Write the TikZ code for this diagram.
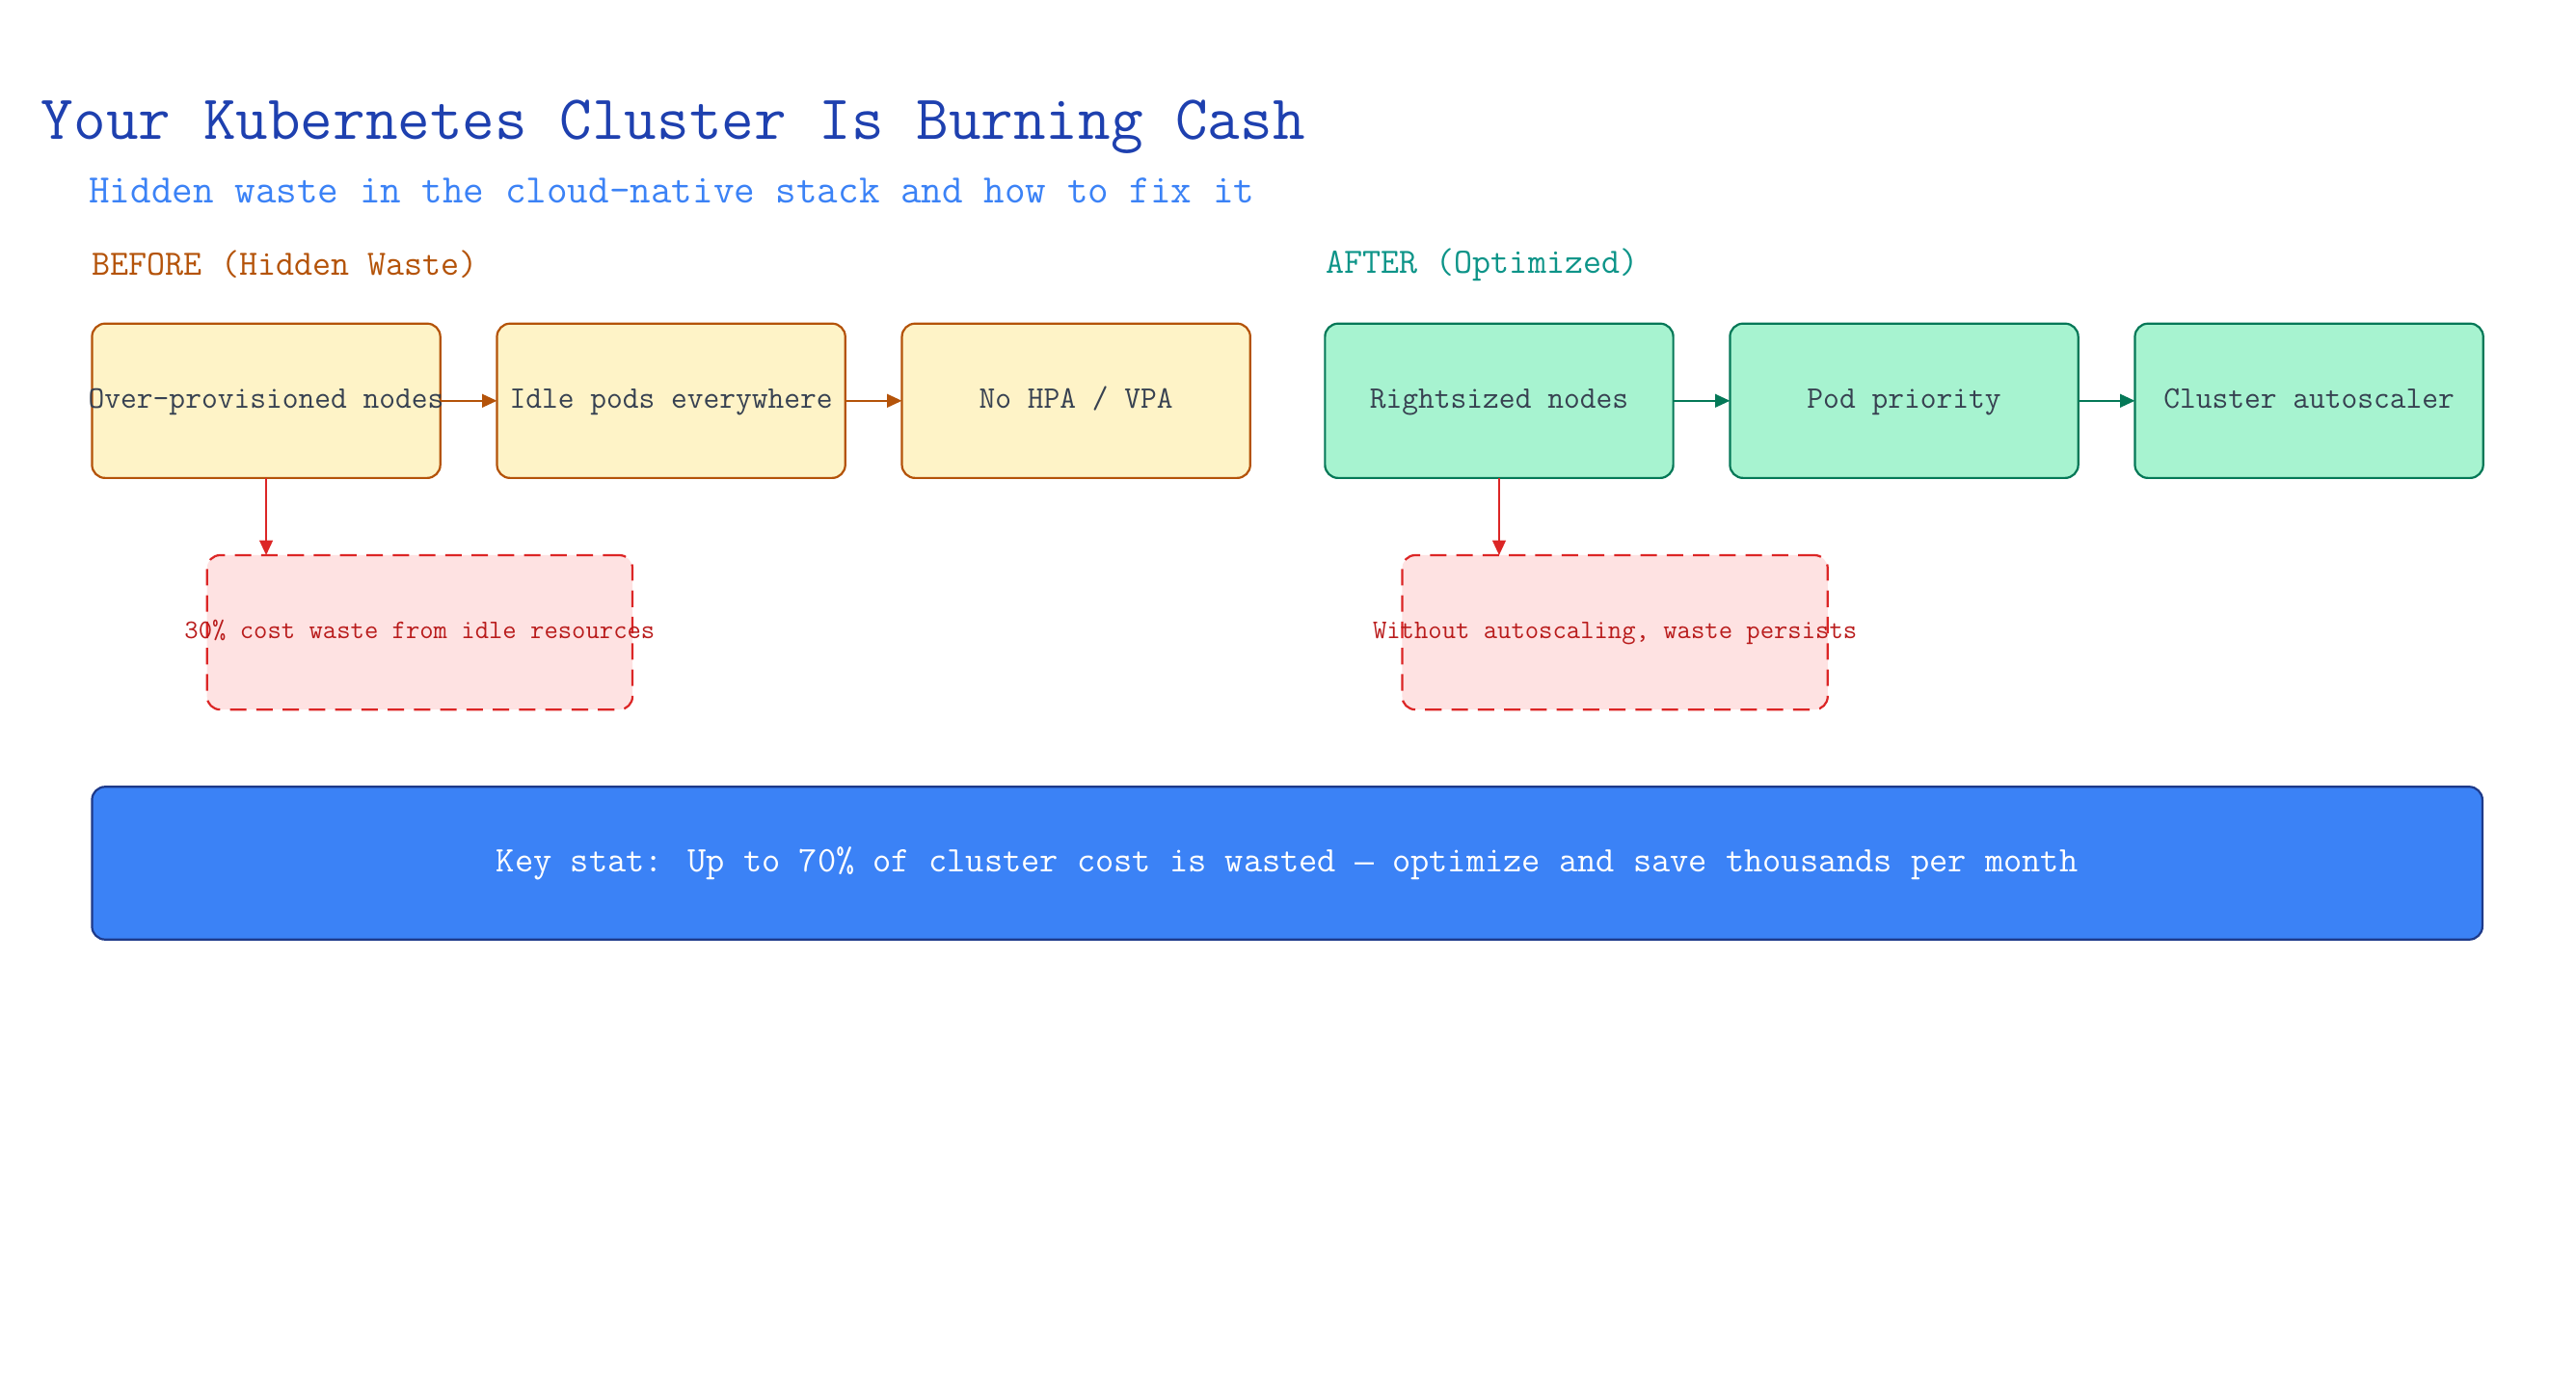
\documentclass[tikz,border=0pt]{standalone}
\usepackage{fontspec}
\newfontfamily\dashfont{Liberation Mono}[Scale=0.875]
\usetikzlibrary{arrows.meta,positioning}

\definecolor{titleblue}{HTML}{1E40AF}
\definecolor{subblue}{HTML}{3B82F6}
\definecolor{waste}{HTML}{B45309}
\definecolor{wastefill}{HTML}{FEF3C7}
\definecolor{fixed}{HTML}{047857}
\definecolor{fixedlabel}{HTML}{0D9488}
\definecolor{fixedfill}{HTML}{A7F3D0}
\definecolor{alert}{HTML}{DC2626}
\definecolor{alerttext}{HTML}{B91C1C}
\definecolor{alertfill}{HTML}{FEE2E2}
\definecolor{statfill}{HTML}{3B82F6}
\definecolor{statline}{HTML}{1E3A8A}
\definecolor{boxtext}{HTML}{374151}

\tikzset{
  fixedwidth/.style={execute at begin node={\hbox to 0pt\bgroup\hss\strut},
    execute at end node={\hss\egroup}},
  stagebox/.style={draw, rounded corners=8pt, line width=1.3pt, inner sep=0pt, outer sep=0pt,
    minimum width=212pt, minimum height=94pt, text=boxtext, fixedwidth,
    font=\ttfamily\fontsize{19.1}{22}\selectfont},
  beforebox/.style={stagebox, draw=waste, fill=wastefill},
  afterbox/.style={stagebox, draw=fixed, fill=fixedfill},
  warnbox/.style={draw=alert, fill=alertfill, dash pattern=on 10pt off 6pt,
    rounded corners=8pt, line width=1.3pt, inner sep=0pt, outer sep=0pt, fixedwidth,
    minimum width=259pt, minimum height=94pt, text=alerttext,
    font=\ttfamily\fontsize{16.35}{19}\selectfont},
  flow/.style={-{Triangle[length=9pt,width=8pt]}, line width=1.3pt},
}

\begin{document}
\begin{tikzpicture}[x=1pt, y=-1pt, node distance=34.5pt]
  \useasboundingbox (0,0) rectangle (1568,845);

  % headings
  \node[anchor=west, inner sep=0pt, text=titleblue, font=\ttfamily\fontsize{38.3}{44}\selectfont]
    (title) at (25,77) {Your Kubernetes Cluster Is Burning Cash};
  \node[anchor=west, inner sep=0pt, text=subblue, font=\ttfamily\fontsize{24.6}{29}\selectfont]
    (subtitle) at (54,116) {Hidden waste in the cloud-native stack and how to fix it};
  \node[anchor=west, inner sep=0pt, text=waste, font=\ttfamily\fontsize{21.7}{25}\selectfont]
    (beforelabel) at (56,161) {BEFORE (Hidden Waste)};
  \node[anchor=west, inner sep=0pt, text=fixedlabel, font=\ttfamily\fontsize{21.7}{25}\selectfont]
    (afterlabel) at (807,161) {AFTER (Optimized)};

  % before row
  \node[beforebox] (overprov) at (162,244) {Over-provisioned nodes};
  \node[beforebox, right=of overprov] (idlepods) {Idle pods everywhere};
  \node[beforebox, right=of idlepods] (nohpa) {No HPA / VPA};

  % after row
  \node[afterbox] (rightsized) at (912.5,244) {Rightsized nodes};
  \node[afterbox, right=of rightsized] (priority) {Pod priority};
  \node[afterbox, right=of priority] (autoscaler) {Cluster autoscaler};

  % waste notes
  \node[warnbox] (idlecost) at (255.5,385) {30\% cost waste from idle resources};
  \node[warnbox] (persists) at (983,385) {Without autoscaling, waste persists};

  % key stat
  \node[draw=statline, fill=statfill, rounded corners=8pt, line width=1.3pt,
    minimum width=1455pt, minimum height=93pt, inner sep=0pt, text=white,
    font=\ttfamily\fontsize{21.9}{25}\selectfont]
    (keystat) at (783.5,525.5)
    {Key stat: Up to 70\% of cluster cost is wasted {\dashfont —} optimize and save thousands per month};

  % connectors
  \draw[flow, waste] (overprov) -- (idlepods);
  \draw[flow, waste] (idlepods) -- (nohpa);
  \draw[flow, fixed] (rightsized) -- (priority);
  \draw[flow, fixed] (priority) -- (autoscaler);
  \draw[flow, alert] (overprov.south) -- (overprov.south |- idlecost.north);
  \draw[flow, alert] (rightsized.south) -- (rightsized.south |- persists.north);
\end{tikzpicture}
\end{document}
